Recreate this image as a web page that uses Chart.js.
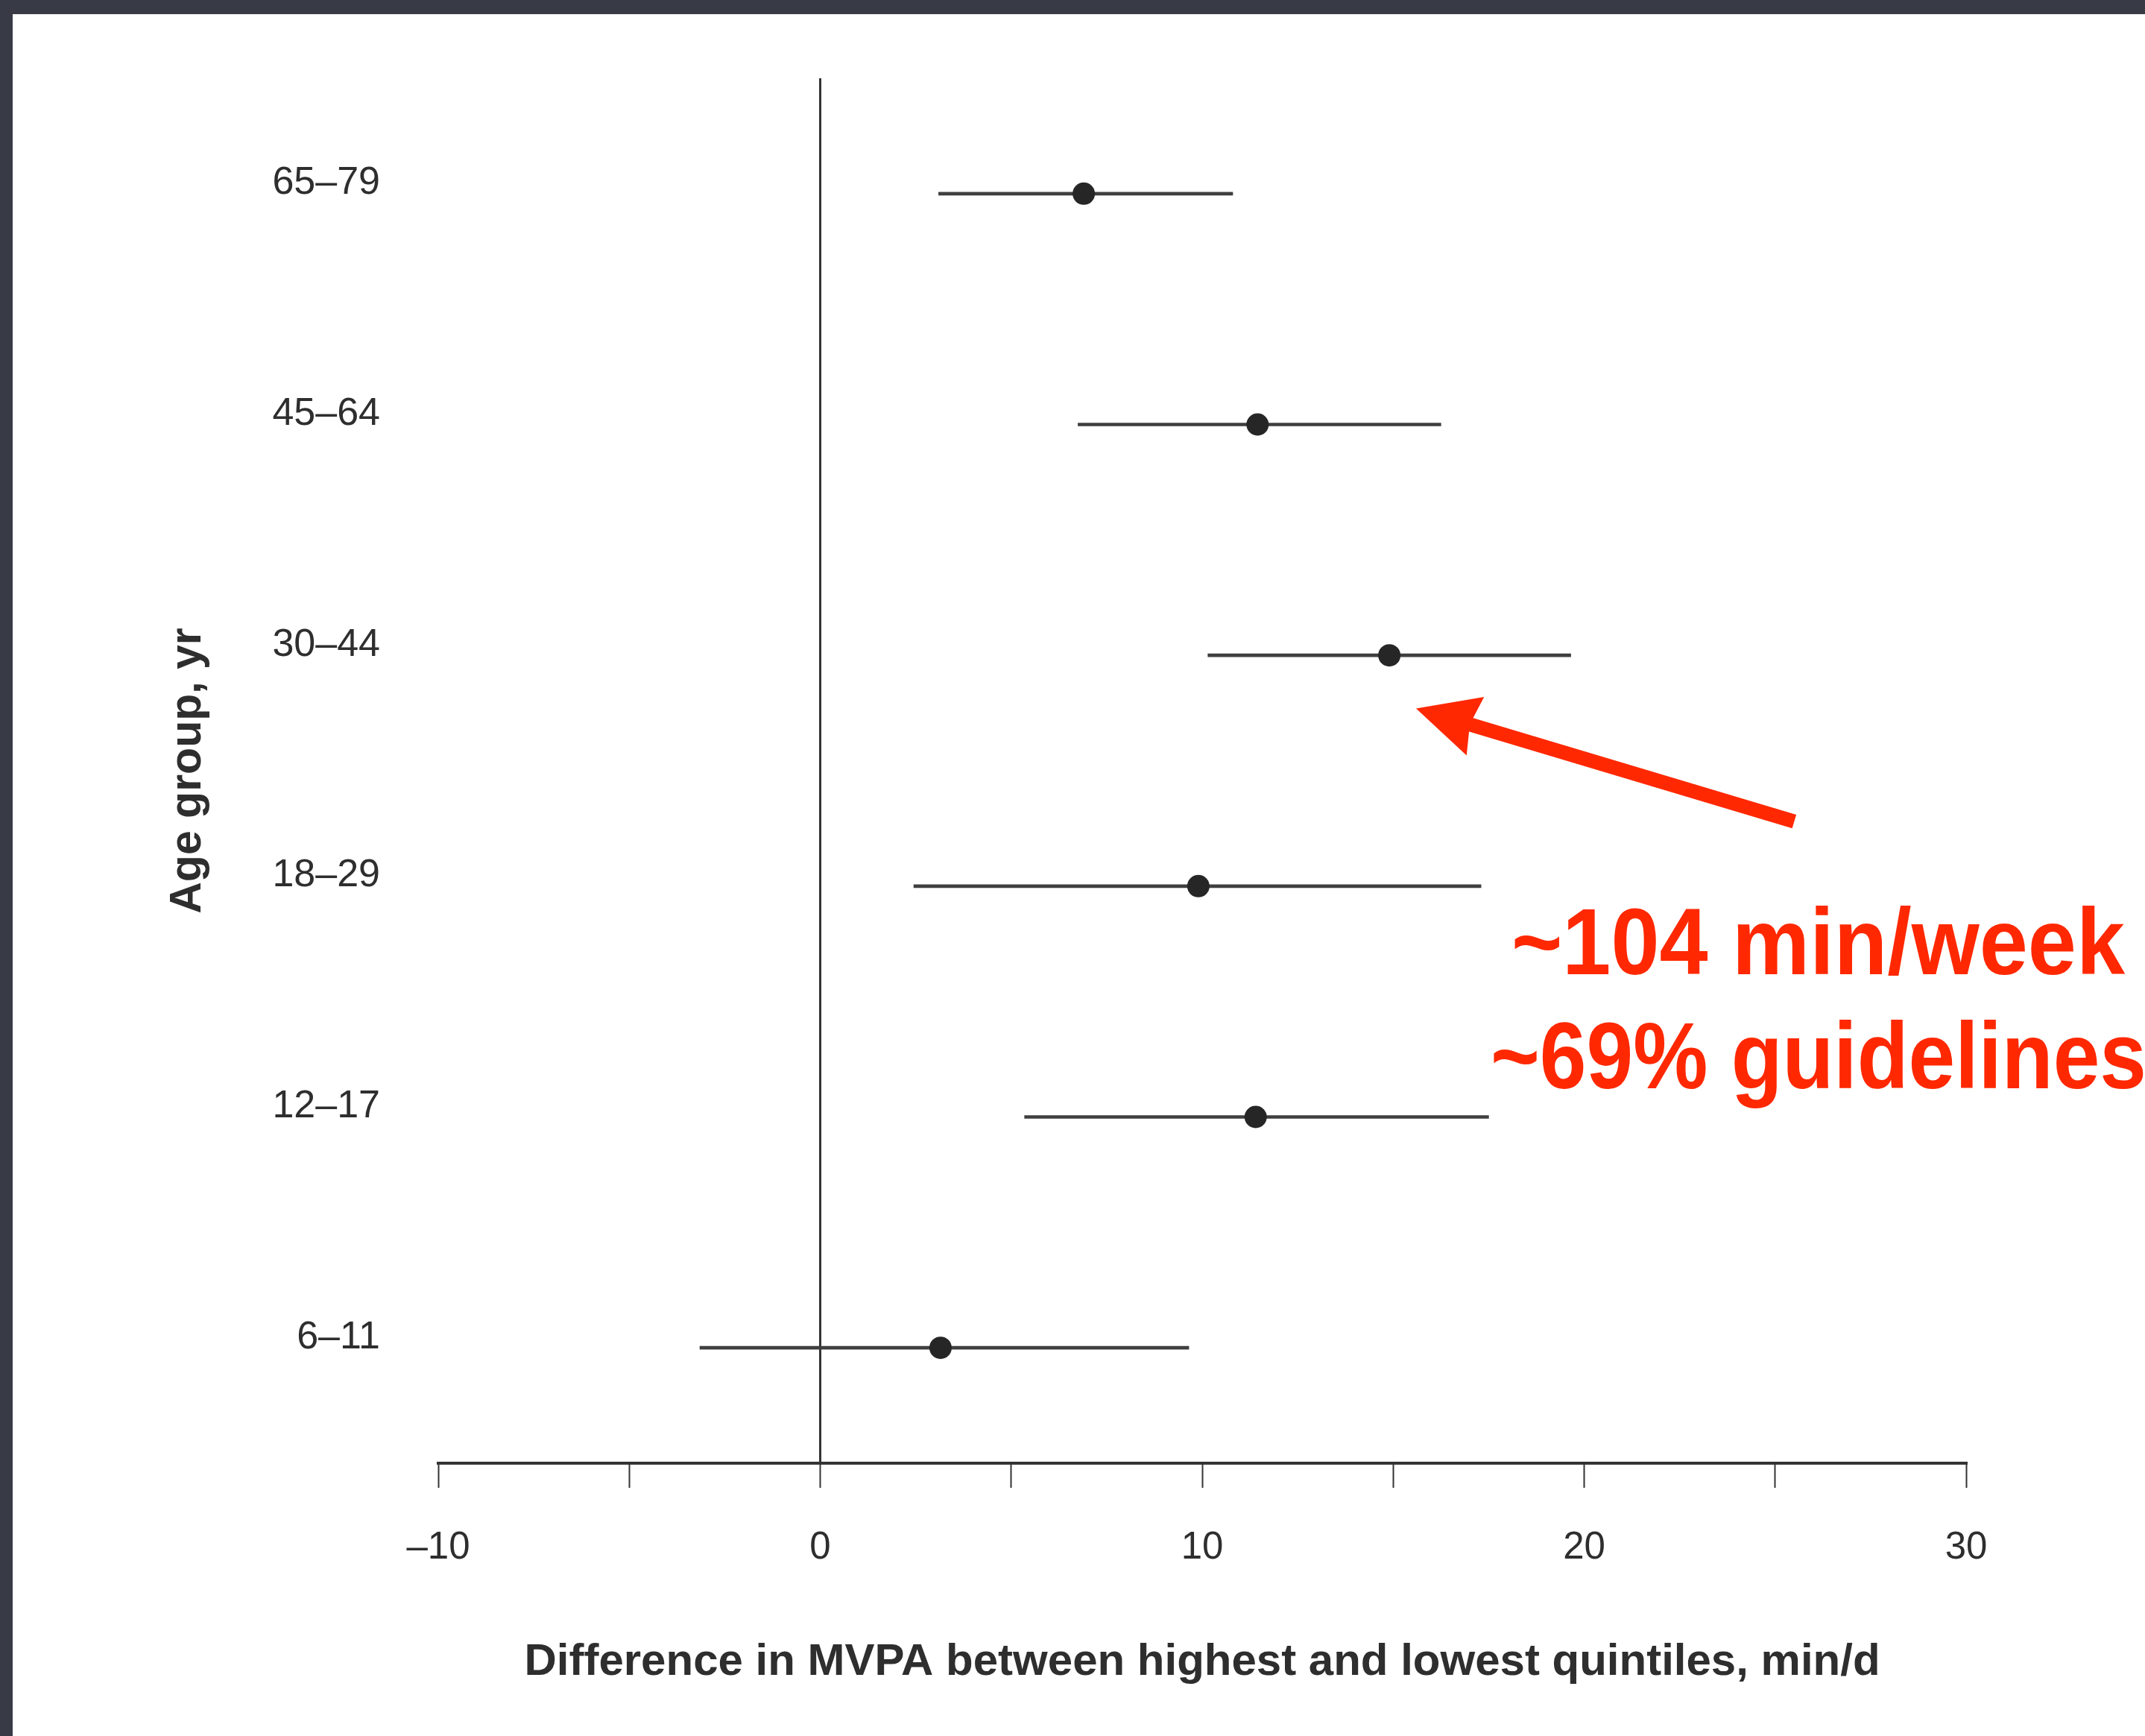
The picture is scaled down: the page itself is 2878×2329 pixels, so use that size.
<!DOCTYPE html>
<html>
<head>
<meta charset="utf-8">
<title>MVPA difference by age group</title>
<script src="https://cdn.jsdelivr.net/npm/chart.js@4.4.1/dist/chart.umd.min.js"></script>
<style>
  html, body { margin: 0; padding: 0; background: #383a46; }
  body { width: 2878px; height: 2329px; overflow: hidden; position: relative; }
  #panel { position: absolute; left: 17px; top: 19px; width: 2861px; height: 2310px; background: #fff; }
  canvas { display: block; }
</style>
</head>
<body>
<div id="panel"><canvas id="chart" width="2861" height="2310"></canvas></div>
<script>
// values (min/d)
const ageGroups = ['65–79', '45–64', '30–44', '18–29', '12–17', '6–11'];
const estimates = [6.9, 11.45, 14.9, 9.9, 11.4, 3.15];
const ciLow = [3.1, 6.75, 10.15, 2.45, 5.35, -3.15];
const ciHigh = [10.8, 16.25, 19.65, 17.3, 17.5, 9.65];
const xTicks = [-10, -5, 0, 5, 10, 15, 20, 25, 30];
const xTickLabels = ['–10', '', '0', '', '10', '', '20', '', '30'];
const noteLines = ['~104 min/week', '~69% guidelines'];
// arrow in data units (y = category index), pointing at the 30–44 estimate
const arrowTail = { x: 25.5, y: 2.72 };
const arrowHead = { x: 15.6, y: 2.23 };

const FONT = '"Liberation Sans", Arial, Helvetica, sans-serif';
const INK = '#2e2e2e';
const RED = '#ff2800';

const notePlugin = {
    id: 'note',
    afterDatasetsDraw(chart) {
        const { ctx, scales: { x, y } } = chart;
        const x0 = x.getPixelForValue(arrowTail.x), y0 = y.getPixelForValue(arrowTail.y);
        const x1 = x.getPixelForValue(arrowHead.x), y1 = y.getPixelForValue(arrowHead.y);
        const len = Math.hypot(x1 - x0, y1 - y0);
        const headLen = 83, headHalf = 41, shaftHalf = 9.5;

        ctx.save();
        ctx.fillStyle = RED;
        ctx.translate(x1, y1);
        ctx.rotate(Math.atan2(y1 - y0, x1 - x0));
        ctx.beginPath();
        ctx.moveTo(0, 0);
        ctx.lineTo(-headLen, -headHalf);
        ctx.lineTo(-headLen + 6, -shaftHalf);
        ctx.lineTo(-len, -shaftHalf);
        ctx.lineTo(-len, shaftHalf);
        ctx.lineTo(-headLen + 6, shaftHalf);
        ctx.lineTo(-headLen, headHalf);
        ctx.closePath();
        ctx.fill();
        ctx.restore();

        // condensed bold note text: [left, baseline, width]
        const boxes = [[2011, 1288, 823], [1983, 1441, 880]];
        ctx.save();
        ctx.fillStyle = RED;
        ctx.font = 'bold 126px ' + FONT;
        ctx.textBaseline = 'alphabetic';
        noteLines.forEach((t, i) => {
            const [lx, by, w] = boxes[i];
            const natural = ctx.measureText(t).width;
            ctx.save();
            ctx.translate(lx, by);
            ctx.scale(w / natural, 1);
            ctx.fillText(t, 0, 0);
            ctx.restore();
        });
        ctx.restore();
    }
};

const ciData = ciLow.map((lo, i) => [lo, ciHigh[i]]);
const pointData = estimates.map((v, i) => ({ x: v, y: ageGroups[i] }));

new Chart(document.getElementById('chart').getContext('2d'), {
    type: 'bar',
    data: {
        labels: ageGroups,
        datasets: [{
            label: '95% CI',
            data: ciData,
            backgroundColor: '#3f3f3f',
            borderWidth: 0,
            barThickness: 4,
            order: 1
        }, {
            type: 'scatter',
            label: 'Difference',
            data: pointData,
            pointRadius: 15,
            pointBackgroundColor: '#262626',
            pointBorderWidth: 0,
            showLine: false,
            order: 0
        }]
    },
    options: {
        indexAxis: 'y',
        responsive: false,
        animation: false,
        devicePixelRatio: 1,
        layout: { padding: { top: 86, right: 240, left: 0, bottom: 0 } },
        plugins: {
            legend: { display: false },
            tooltip: { enabled: false }
        },
        scales: {
            x: {
                type: 'linear',
                min: -10,
                max: 30,
                afterBuildTicks: axis => { axis.ticks = xTicks.map(v => ({ value: v })); },
                afterFit: s => { s.height = 366; },
                ticks: {
                    callback: (v, i) => xTickLabels[i],
                    autoSkip: false,
                    maxRotation: 0,
                    padding: 50,
                    color: INK,
                    font: { family: FONT, size: 51 }
                },
                grid: {
                    color: c => (c.tick && c.tick.value === 0) ? '#333' : 'rgba(0,0,0,0)',
                    lineWidth: 3,
                    tickColor: '#333',
                    tickWidth: 2,
                    tickLength: 33
                },
                border: { display: true, color: '#333', width: 4 },
                title: {
                    display: true,
                    text: 'Difference in MVPA between highest and lowest quintiles, min/d',
                    color: INK,
                    font: { family: FONT, size: 60, weight: 'bold' },
                    padding: { top: 0, bottom: 63 }
                }
            },
            y: {
                type: 'category',
                afterFit: s => {
                    s.width = 571;
                    // keep the label padding from pushing the plot area down
                    s.paddingTop = 0;
                    s.paddingBottom = 0;
                },
                grid: { display: false, drawTicks: false },
                border: { display: false },
                ticks: {
                    padding: 78,
                    labelOffset: -14,
                    color: INK,
                    font: { family: FONT, size: 52 }
                },
                title: {
                    display: true,
                    text: 'Age group, yr',
                    color: INK,
                    font: { family: FONT, size: 59, weight: 'bold' },
                    padding: { top: 200, bottom: 0 }
                }
            }
        }
    },
    plugins: [notePlugin]
});
</script>
</body>
</html>
